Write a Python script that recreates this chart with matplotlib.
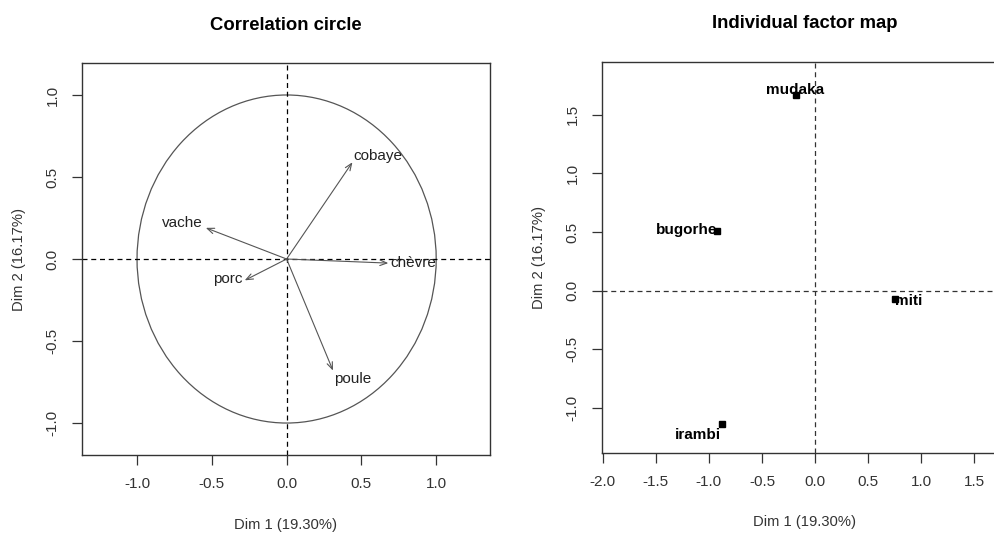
import numpy as np
import matplotlib
matplotlib.use('Agg')
from matplotlib import pyplot as plt
from matplotlib.patches import Ellipse

plt.rcParams['font.family'] = ['Liberation Sans', 'DejaVu Sans']

# variables (correlation circle)
var_names = ['cobaye', 'vache', 'chèvre', 'porc', 'poule']
var_x = [0.44, -0.54, 0.68, -0.28, 0.31]
var_y = [0.59, 0.19, -0.025, -0.13, -0.68]
var_lab_x = [0.61, -0.70, 0.845, -0.39, 0.44]
var_lab_y = [0.63, 0.22, -0.025, -0.12, -0.73]

# individuals
ind_names = ['mudaka', 'bugorhe', 'miti', 'irambi']
ind_x = [-0.18, -0.92, 0.75, -0.88]
ind_y = [1.665, 0.51, -0.07, -1.135]
ind_lab_x = [-0.19, -1.21, 0.88, -1.10]
ind_lab_y = [1.715, 0.515, -0.09, -1.23]

xlab = 'Dim 1 (19.30%)'
ylab = 'Dim 2 (16.17%)'
tcol = '#333333'

fig = plt.figure(figsize=(9.95, 5.33), dpi=100)


def style_axes(ax):
    ax.tick_params(direction='out', length=7, width=0.9, colors=tcol,
                   labelsize=11, pad=9)
    ax.tick_params(axis='y', labelrotation=90)
    for lab in ax.get_yticklabels():
        lab.set_va('center')
    for s in ax.spines.values():
        s.set_color('#333333')
        s.set_linewidth(1.0)
    ax.set_xlabel(xlab, fontsize=10.6, color=tcol, labelpad=19)
    ax.set_ylabel(ylab, fontsize=10.6, color=tcol, labelpad=14)


# left: correlation circle
ax1 = fig.add_axes([0.0821, 0.1463, 0.4104, 0.7355])
ax1.set_xlim(-1.37, 1.36)
ax1.set_ylim(-1.195, 1.195)
ax1.add_patch(Ellipse((0, 0), 2, 2, fill=False, edgecolor='#555555', lw=0.9))
ax1.axhline(0, color='black', lw=0.9, ls=(0, (4, 3)))
ax1.axvline(0, color='black', lw=0.9, ls=(0, (4, 3)))
for i in range(len(var_names)):
    ax1.annotate('', xy=(var_x[i], var_y[i]), xytext=(0, 0),
                 arrowprops=dict(arrowstyle='->,head_length=0.5,head_width=0.2',
                                 color='#555555', lw=0.8, shrinkA=0, shrinkB=0))
    ax1.text(var_lab_x[i], var_lab_y[i], var_names[i], fontsize=11,
             ha='center', va='center', color='#222222')
ax1.set_xticks([-1.0, -0.5, 0.0, 0.5, 1.0])
ax1.set_yticks([-1.0, -0.5, 0.0, 0.5, 1.0])
ax1.set_xticklabels(['-1.0', '-0.5', '0.0', '0.5', '1.0'])
ax1.set_yticklabels(['-1.0', '-0.5', '0.0', '0.5', '1.0'])
style_axes(ax1)
ax1.set_title('Correlation circle', fontsize=13.3, fontweight='bold', pad=24)

# right: individual factor map
ax2 = fig.add_axes([0.6047, 0.1507, 0.4083, 0.7335])
ax2.set_xlim(-2.01, 1.817)
ax2.set_ylim(-1.381, 1.952)
ax2.axhline(0, color='#333333', lw=0.9, ls=(0, (4, 3)))
ax2.axvline(0, color='#333333', lw=0.9, ls=(0, (4, 3)))
ax2.plot(ind_x, ind_y, 's', color='black', markersize=5)
for i in range(len(ind_names)):
    ax2.text(ind_lab_x[i], ind_lab_y[i], ind_names[i], fontsize=11,
             fontweight='bold', ha='center', va='center', color='black')
ax2.set_xticks([-2.0, -1.5, -1.0, -0.5, 0.0, 0.5, 1.0, 1.5])
ax2.set_xticklabels(['-2.0', '-1.5', '-1.0', '-0.5', '0.0', '0.5', '1.0', '1.5'])
ax2.set_yticks([-1.0, -0.5, 0.0, 0.5, 1.0, 1.5])
ax2.set_yticklabels(['-1.0', '-0.5', '0.0', '0.5', '1.0', '1.5'])
style_axes(ax2)
ax2.set_title('Individual factor map', fontsize=13.3, fontweight='bold', pad=24)

plt.savefig('out.png', dpi=100)
